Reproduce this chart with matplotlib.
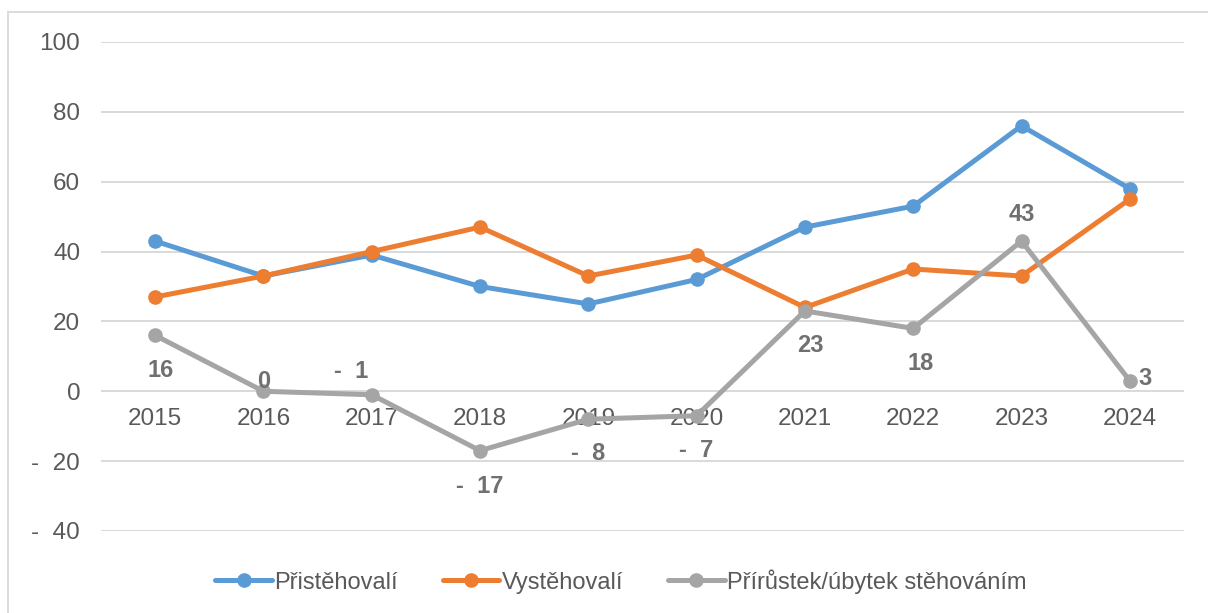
import matplotlib
matplotlib.use("Agg")
import matplotlib.pyplot as plt
from matplotlib.patches import Rectangle

plt.rcParams['font.family'] = ['Liberation Sans', 'DejaVu Sans']

# data
roky = ['2015', '2016', '2017', '2018', '2019', '2020', '2021', '2022', '2023', '2024']
pristehovali = [43, 33, 39, 30, 25, 32, 47, 53, 76, 58]
vystehovali = [27, 33, 40, 47, 33, 39, 24, 35, 33, 55]
prirustek = [16, 0, -1, -17, -8, -7, 23, 18, 43, 3]

# label offsets (points) for the gray series labels
label_offsets = [(4, -25), (0, 7), (-15, 17), (0, -26), (0, -25), (0, -25),
                 (4, -25), (5, -25), (0, 19), (11, 2)]

def fmt(v):
    # Excel accounting-like format
    return '-  %d' % abs(v) if v < 0 else '%d' % v

tick_color = '#595959'
grid_color = '#D9D9D9'

fig = plt.figure(figsize=(12.08, 6.13), dpi=100)
ax = fig.add_axes([0.0836, 0.1338, 0.8965, 0.7977])

# chart area border
fig.patches.append(Rectangle((8 / 1208, -0.1), 1.2, 1 - 12 / 613 + 0.1,
                             transform=fig.transFigure, fill=False,
                             edgecolor='#D9D9D9', linewidth=1.3))

x = list(range(len(roky)))
series = [
    (pristehovali, '#5B9BD5', 'Přistěhovalí'),
    (vystehovali, '#ED7D31', 'Vystěhovalí'),
    (prirustek, '#A5A5A5', 'Přírůstek/úbytek stěhováním'),
]
for vals, col, name in series:
    ax.plot(x, vals, color=col, linewidth=3.6, marker='o', markersize=9.5,
            label=name, solid_capstyle='round', zorder=3)

for i, v in enumerate(prirustek):
    dx, dy = label_offsets[i]
    ax.annotate(fmt(v), (x[i], v), xytext=(dx, dy), textcoords='offset points',
                ha='center', va='center', fontsize=17, fontweight='bold',
                color='#707070', zorder=4)

ax.set_xlim(-0.5, 9.5)
ax.set_ylim(-40, 100)
ax.set_yticks([-40, -20, 0, 20, 40, 60, 80, 100])
ax.set_yticklabels([fmt(t) for t in [-40, -20, 0, 20, 40, 60, 80, 100]])
ax.set_xticks(x)
ax.set_xticklabels(roky)

for s in ['top', 'right', 'left']:
    ax.spines[s].set_visible(False)
ax.spines['bottom'].set_position(('data', 0))
ax.spines['bottom'].set_visible(False)

ax.grid(axis='y', color=grid_color, linewidth=1.4, zorder=0)
ax.set_axisbelow(True)
ax.tick_params(axis='y', length=0, pad=15, labelsize=17.5, labelcolor=tick_color)
ax.tick_params(axis='x', length=0, pad=12, labelsize=17.5, labelcolor=tick_color)

leg = ax.legend(loc='center', bbox_to_anchor=(0.48, -0.103), ncol=3, frameon=False,
                fontsize=17, handlelength=2.4, columnspacing=1.9, handletextpad=0.1,
                labelcolor=tick_color)

fig.savefig('out.png', dpi=100)
